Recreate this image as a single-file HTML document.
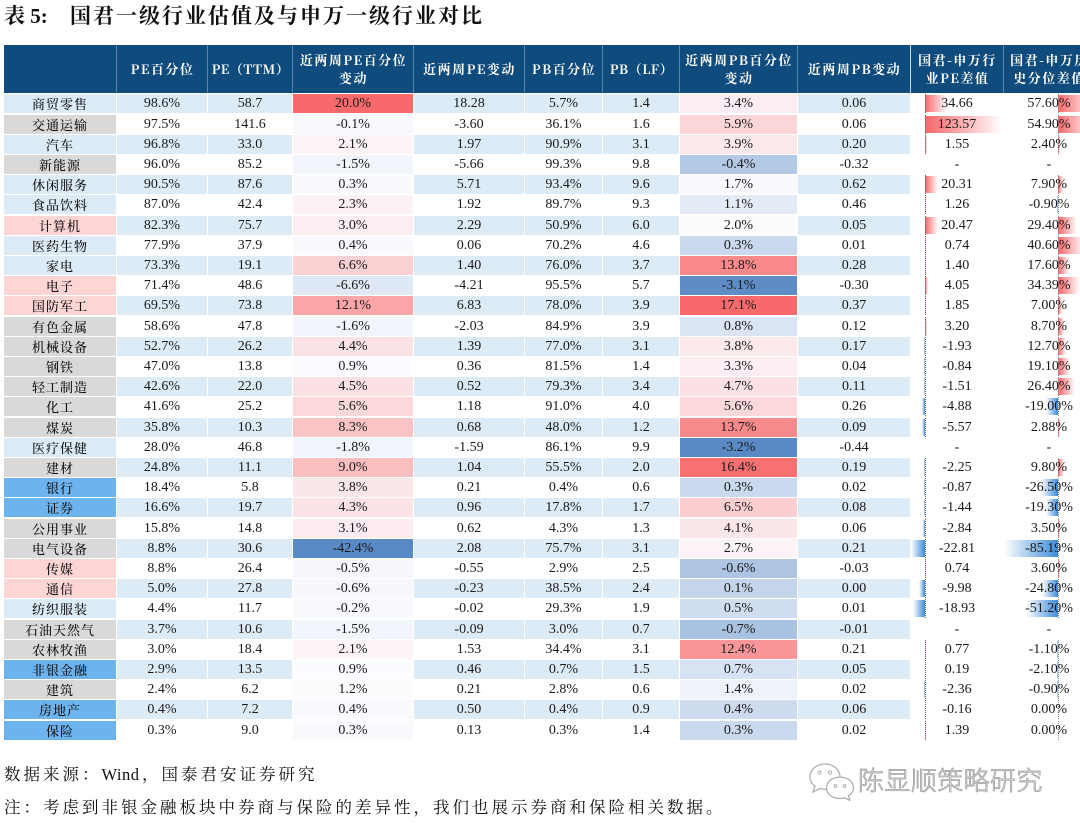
<!DOCTYPE html>
<html><head><meta charset="utf-8"><style>
*{margin:0;padding:0}
body{width:1080px;height:829px;overflow:hidden;background:#fff;position:relative;font-family:"Liberation Serif","Noto Serif CJK SC",serif}
.title{position:absolute;top:1px;font-weight:bold;font-size:21px;line-height:30px;color:#111;font-family:"Liberation Serif","Noto Serif CJK SC",serif;white-space:nowrap}
.hdr{position:absolute;left:4px;top:45px;width:1090px;height:48px;background:#0f4c7d}
.hc{position:absolute;top:45px;height:48px;display:flex;align-items:center;justify-content:center;text-align:center;color:#fff;font-weight:bold;font-size:13px;font-family:"Noto Serif CJK SC",serif;letter-spacing:1.5px;line-height:18.5px;border-left:1px solid #5b84ab;box-sizing:border-box;white-space:nowrap}
.r{position:absolute;left:0;width:1100px;height:19px}
.c{position:absolute;top:0;height:19px;line-height:19px;text-align:center;font-size:14px;color:#1a1a1a;font-family:"Liberation Serif",serif;white-space:nowrap}
.c0{left:4px;width:112px;font-size:13px;font-family:"Noto Serif CJK SC",serif;font-weight:500;letter-spacing:1px;color:#111}
.c1{left:117px;width:90px}
.c2{left:208px;width:84px}
.c3{left:293px;width:120px}
.c4{left:414px;width:110px}
.c5{left:525px;width:77px}
.c6{left:603px;width:76px}
.c7{left:680px;width:117px}
.c8{left:798px;width:112px}
.c9{left:911px;width:92px}
.c10{left:1004px;width:90px}
.e .c1,.e .c2,.e .c4,.e .c5,.e .c6,.e .c8{background:#ddebf7}
.lb{background:#ddebf7!important}
.gy{background:#d9d9d9!important}
.pk{background:#fdd5d5!important}
.bl{background:#6db3ee!important}
.bp{position:absolute;top:1px;height:17px;background:linear-gradient(to right,#f6666a,#fff)}
.bn{position:absolute;top:1px;height:17px;background:linear-gradient(to left,#3f8bd9,#fff)}
.a9,.a10{position:absolute;top:0;height:19px;width:0;border-left:1px dotted #666}
.a9{left:925px}
.a10{left:1058px;border-left-color:#888}
.foot{position:absolute;left:4px;font-size:16.5px;letter-spacing:3px;color:#111;font-family:"Liberation Serif","Noto Serif CJK SC",serif;white-space:nowrap;line-height:22px}
.wm{position:absolute;left:858px;top:763px;font-size:26px;line-height:34px;letter-spacing:0.4px;font-family:"Noto Sans CJK SC",sans-serif;font-weight:300;color:#f6f6f6;-webkit-text-stroke:0.8px #a0a0a0;white-space:nowrap}
</style></head><body>

<div class="title" style="left:4px">表 5:</div>
<div class="title" style="left:70px;letter-spacing:2px">国君一级行业估值及与申万一级行业对比</div>

<div class="hdr"></div>
<div class="hc" style="left:116px;width:92px">PE百分位</div>
<div class="hc" style="left:207px;width:86px;letter-spacing:0.5px">PE（TTM）</div>
<div class="hc" style="left:292px;width:122px">近两周PE百分位<br>变动</div>
<div class="hc" style="left:413px;width:112px">近两周PE变动</div>
<div class="hc" style="left:524px;width:79px">PB百分位</div>
<div class="hc" style="left:602px;width:78px;letter-spacing:0.5px">PB（LF）</div>
<div class="hc" style="left:679px;width:119px">近两周PB百分位<br>变动</div>
<div class="hc" style="left:797px;width:114px">近两周PB变动</div>
<div class="hc" style="left:910px;width:94px;border-left-color:#c9d6e3">国君-申万行<br>业PE差值</div>
<div class="hc" style="left:1003px;width:92px">国君-申万历<br>史分位差值</div>

<div class="r e" style="top:94.3px"><div class="c c0 lb">商贸零售</div><div class="c c1">98.6%</div><div class="c c2">58.7</div><div class="c c3" style="background:#f8696b">20.0%</div><div class="c c4">18.28</div><div class="c c5">5.7%</div><div class="c c6">1.4</div><div class="c c7" style="background:#fcedf0">3.4%</div><div class="c c8">0.06</div><b class="bp" style="left:925px;width:21.5px"></b><i class="a9"></i><div class="c c9">34.66</div><b class="bp" style="left:1058px;width:36.5px"></b><i class="a10"></i><div class="c c10">57.60%</div></div>

<div class="r" style="top:114.5px"><div class="c c0 gy">交通运输</div><div class="c c1">97.5%</div><div class="c c2">141.6</div><div class="c c3" style="background:#f8f9fd">-0.1%</div><div class="c c4">-3.60</div><div class="c c5">36.1%</div><div class="c c6">1.6</div><div class="c c7" style="background:#fbd5d8">5.9%</div><div class="c c8">0.06</div><b class="bp" style="left:925px;width:76.6px"></b><i class="a9"></i><div class="c c9">123.57</div><b class="bp" style="left:1058px;width:34.8px"></b><i class="a10"></i><div class="c c10">54.90%</div></div>

<div class="r e" style="top:134.7px"><div class="c c0 lb">汽车</div><div class="c c1">96.8%</div><div class="c c2">33.0</div><div class="c c3" style="background:#fcf4f7">2.1%</div><div class="c c4">1.97</div><div class="c c5">90.9%</div><div class="c c6">3.1</div><div class="c c7" style="background:#fbe8eb">3.9%</div><div class="c c8">0.20</div><b class="bp" style="left:925px;width:1.5px"></b><i class="a9"></i><div class="c c9">1.55</div><b class="bp" style="left:1058px;width:1.6px"></b><i class="a10"></i><div class="c c10">2.40%</div></div>

<div class="r" style="top:154.9px"><div class="c c0 gy">新能源</div><div class="c c1">96.0%</div><div class="c c2">85.2</div><div class="c c3" style="background:#f2f5fc">-1.5%</div><div class="c c4">-5.66</div><div class="c c5">99.3%</div><div class="c c6">9.8</div><div class="c c7" style="background:#b4c9e6">-0.4%</div><div class="c c8">-0.32</div><div class="c c9">-</div><div class="c c10">-</div></div>

<div class="r e" style="top:175.1px"><div class="c c0 lb">休闲服务</div><div class="c c1">90.5%</div><div class="c c2">87.6</div><div class="c c3" style="background:#f9fafe">0.3%</div><div class="c c4">5.71</div><div class="c c5">93.4%</div><div class="c c6">9.6</div><div class="c c7" style="background:#f7f9fd">1.7%</div><div class="c c8">0.62</div><b class="bp" style="left:925px;width:12.6px"></b><i class="a9"></i><div class="c c9">20.31</div><b class="bp" style="left:1058px;width:5px"></b><i class="a10"></i><div class="c c10">7.90%</div></div>

<div class="r" style="top:195.3px"><div class="c c0 lb">食品饮料</div><div class="c c1">87.0%</div><div class="c c2">42.4</div><div class="c c3" style="background:#fcf2f5">2.3%</div><div class="c c4">1.92</div><div class="c c5">89.7%</div><div class="c c6">9.3</div><div class="c c7" style="background:#e4ebf7">1.1%</div><div class="c c8">0.46</div><b class="bp" style="left:925px;width:1px"></b><i class="a9"></i><div class="c c9">1.26</div><b class="bn" style="left:1057px;width:1px"></b><i class="a10"></i><div class="c c10">-0.90%</div></div>

<div class="r e" style="top:215.5px"><div class="c c0 pk">计算机</div><div class="c c1">82.3%</div><div class="c c2">75.7</div><div class="c c3" style="background:#fcedf0">3.0%</div><div class="c c4">2.29</div><div class="c c5">50.9%</div><div class="c c6">6.0</div><div class="c c7" style="background:#fcfbfe">2.0%</div><div class="c c8">0.05</div><b class="bp" style="left:925px;width:12.7px"></b><i class="a9"></i><div class="c c9">20.47</div><b class="bp" style="left:1058px;width:18.6px"></b><i class="a10"></i><div class="c c10">29.40%</div></div>

<div class="r" style="top:235.7px"><div class="c c0 lb">医药生物</div><div class="c c1">77.9%</div><div class="c c2">37.9</div><div class="c c3" style="background:#fafafe">0.4%</div><div class="c c4">0.06</div><div class="c c5">70.2%</div><div class="c c6">4.6</div><div class="c c7" style="background:#cad9ed">0.3%</div><div class="c c8">0.01</div><b class="bp" style="left:925px;width:1px"></b><i class="a9"></i><div class="c c9">0.74</div><b class="bp" style="left:1058px;width:25.7px"></b><i class="a10"></i><div class="c c10">40.60%</div></div>

<div class="r e" style="top:255.9px"><div class="c c0 lb">家电</div><div class="c c1">73.3%</div><div class="c c2">19.1</div><div class="c c3" style="background:#fbd1d4">6.6%</div><div class="c c4">1.40</div><div class="c c5">76.0%</div><div class="c c6">3.7</div><div class="c c7" style="background:#f9898b">13.8%</div><div class="c c8">0.28</div><b class="bp" style="left:925px;width:1px"></b><i class="a9"></i><div class="c c9">1.40</div><b class="bp" style="left:1058px;width:11.2px"></b><i class="a10"></i><div class="c c10">17.60%</div></div>

<div class="r" style="top:276.1px"><div class="c c0 pk">电子</div><div class="c c1">71.4%</div><div class="c c2">48.6</div><div class="c c3" style="background:#dfe8f5">-6.6%</div><div class="c c4">-4.21</div><div class="c c5">95.5%</div><div class="c c6">5.7</div><div class="c c7" style="background:#5d8cc7">-3.1%</div><div class="c c8">-0.30</div><b class="bp" style="left:925px;width:2.5px"></b><i class="a9"></i><div class="c c9">4.05</div><b class="bp" style="left:1058px;width:21.8px"></b><i class="a10"></i><div class="c c10">34.39%</div></div>

<div class="r e" style="top:296.3px"><div class="c c0 pk">国防军工</div><div class="c c1">69.5%</div><div class="c c2">73.8</div><div class="c c3" style="background:#faa6a9">12.1%</div><div class="c c4">6.83</div><div class="c c5">78.0%</div><div class="c c6">3.9</div><div class="c c7" style="background:#f8696b">17.1%</div><div class="c c8">0.37</div><b class="bp" style="left:925px;width:1.2px"></b><i class="a9"></i><div class="c c9">1.85</div><b class="bp" style="left:1058px;width:4.4px"></b><i class="a10"></i><div class="c c10">7.00%</div></div>

<div class="r" style="top:316.5px"><div class="c c0 gy">有色金属</div><div class="c c1">58.6%</div><div class="c c2">47.8</div><div class="c c3" style="background:#f2f5fc">-1.6%</div><div class="c c4">-2.03</div><div class="c c5">84.9%</div><div class="c c6">3.9</div><div class="c c7" style="background:#dae4f3">0.8%</div><div class="c c8">0.12</div><b class="bp" style="left:925px;width:2px"></b><i class="a9"></i><div class="c c9">3.20</div><b class="bp" style="left:1058px;width:5.5px"></b><i class="a10"></i><div class="c c10">8.70%</div></div>

<div class="r e" style="top:336.7px"><div class="c c0 gy">机械设备</div><div class="c c1">52.7%</div><div class="c c2">26.2</div><div class="c c3" style="background:#fbe2e5">4.4%</div><div class="c c4">1.39</div><div class="c c5">77.0%</div><div class="c c6">3.1</div><div class="c c7" style="background:#fbe9ec">3.8%</div><div class="c c8">0.17</div><b class="bn" style="left:923.8px;width:1.2px"></b><i class="a9"></i><div class="c c9">-1.93</div><b class="bp" style="left:1058px;width:8.1px"></b><i class="a10"></i><div class="c c10">12.70%</div></div>

<div class="r" style="top:356.9px"><div class="c c0 gy">钢铁</div><div class="c c1">47.0%</div><div class="c c2">13.8</div><div class="c c3" style="background:#fbfcff">0.9%</div><div class="c c4">0.36</div><div class="c c5">81.5%</div><div class="c c6">1.4</div><div class="c c7" style="background:#fceef1">3.3%</div><div class="c c8">0.04</div><b class="bn" style="left:924px;width:1px"></b><i class="a9"></i><div class="c c9">-0.84</div><b class="bp" style="left:1058px;width:12.1px"></b><i class="a10"></i><div class="c c10">19.10%</div></div>

<div class="r e" style="top:377.1px"><div class="c c0 gy">轻工制造</div><div class="c c1">42.6%</div><div class="c c2">22.0</div><div class="c c3" style="background:#fbe1e4">4.5%</div><div class="c c4">0.52</div><div class="c c5">79.3%</div><div class="c c6">3.4</div><div class="c c7" style="background:#fbe1e3">4.7%</div><div class="c c8">0.11</div><b class="bn" style="left:924px;width:1px"></b><i class="a9"></i><div class="c c9">-1.51</div><b class="bp" style="left:1058px;width:16.7px"></b><i class="a10"></i><div class="c c10">26.40%</div></div>

<div class="r" style="top:397.3px"><div class="c c0 gy">化工</div><div class="c c1">41.6%</div><div class="c c2">25.2</div><div class="c c3" style="background:#fbd9db">5.6%</div><div class="c c4">1.18</div><div class="c c5">91.0%</div><div class="c c6">4.0</div><div class="c c7" style="background:#fbd8db">5.6%</div><div class="c c8">0.26</div><b class="bn" style="left:922px;width:3px"></b><i class="a9"></i><div class="c c9">-4.88</div><b class="bn" style="left:1046px;width:12px"></b><i class="a10"></i><div class="c c10">-19.00%</div></div>

<div class="r e" style="top:417.5px"><div class="c c0 gy">煤炭</div><div class="c c1">35.8%</div><div class="c c2">10.3</div><div class="c c3" style="background:#fac4c6">8.3%</div><div class="c c4">0.68</div><div class="c c5">48.0%</div><div class="c c6">1.2</div><div class="c c7" style="background:#f98a8c">13.7%</div><div class="c c8">0.09</div><b class="bn" style="left:921.5px;width:3.5px"></b><i class="a9"></i><div class="c c9">-5.57</div><b class="bp" style="left:1058px;width:1.8px"></b><i class="a10"></i><div class="c c10">2.88%</div></div>

<div class="r" style="top:437.7px"><div class="c c0 lb">医疗保健</div><div class="c c1">28.0%</div><div class="c c2">46.8</div><div class="c c3" style="background:#f1f4fb">-1.8%</div><div class="c c4">-1.59</div><div class="c c5">86.1%</div><div class="c c6">9.9</div><div class="c c7" style="background:#5a8ac6">-3.2%</div><div class="c c8">-0.44</div><div class="c c9">-</div><div class="c c10">-</div></div>

<div class="r e" style="top:457.9px"><div class="c c0 gy">建材</div><div class="c c1">24.8%</div><div class="c c2">11.1</div><div class="c c3" style="background:#fabec1">9.0%</div><div class="c c4">1.04</div><div class="c c5">55.5%</div><div class="c c6">2.0</div><div class="c c7" style="background:#f87072">16.4%</div><div class="c c8">0.19</div><b class="bn" style="left:923.6px;width:1.4px"></b><i class="a9"></i><div class="c c9">-2.25</div><b class="bp" style="left:1058px;width:6.2px"></b><i class="a10"></i><div class="c c10">9.80%</div></div>

<div class="r" style="top:478.1px"><div class="c c0 bl">银行</div><div class="c c1">18.4%</div><div class="c c2">5.8</div><div class="c c3" style="background:#fbe7ea">3.8%</div><div class="c c4">0.21</div><div class="c c5">0.4%</div><div class="c c6">0.6</div><div class="c c7" style="background:#cad9ed">0.3%</div><div class="c c8">0.02</div><b class="bn" style="left:924px;width:1px"></b><i class="a9"></i><div class="c c9">-0.87</div><b class="bn" style="left:1041.2px;width:16.8px"></b><i class="a10"></i><div class="c c10">-26.50%</div></div>

<div class="r e" style="top:498.3px"><div class="c c0 bl">证券</div><div class="c c1">16.6%</div><div class="c c2">19.7</div><div class="c c3" style="background:#fbe3e6">4.3%</div><div class="c c4">0.96</div><div class="c c5">17.8%</div><div class="c c6">1.7</div><div class="c c7" style="background:#fbcfd2">6.5%</div><div class="c c8">0.08</div><b class="bn" style="left:924px;width:1px"></b><i class="a9"></i><div class="c c9">-1.44</div><b class="bn" style="left:1045.8px;width:12.2px"></b><i class="a10"></i><div class="c c10">-19.30%</div></div>

<div class="r" style="top:518.5px"><div class="c c0 gy">公用事业</div><div class="c c1">15.8%</div><div class="c c2">14.8</div><div class="c c3" style="background:#fcecef">3.1%</div><div class="c c4">0.62</div><div class="c c5">4.3%</div><div class="c c6">1.3</div><div class="c c7" style="background:#fbe6e9">4.1%</div><div class="c c8">0.06</div><b class="bn" style="left:923.2px;width:1.8px"></b><i class="a9"></i><div class="c c9">-2.84</div><b class="bp" style="left:1058px;width:2.2px"></b><i class="a10"></i><div class="c c10">3.50%</div></div>

<div class="r e" style="top:538.7px"><div class="c c0 gy">电气设备</div><div class="c c1">8.8%</div><div class="c c2">30.6</div><div class="c c3" style="background:#5a8ac6">-42.4%</div><div class="c c4">2.08</div><div class="c c5">75.7%</div><div class="c c6">3.1</div><div class="c c7" style="background:#fcf4f7">2.7%</div><div class="c c8">0.21</div><b class="bn" style="left:910.9px;width:14.1px"></b><i class="a9"></i><div class="c c9">-22.81</div><b class="bn" style="left:1004px;width:54px"></b><i class="a10"></i><div class="c c10">-85.19%</div></div>

<div class="r" style="top:558.9px"><div class="c c0 pk">传媒</div><div class="c c1">8.8%</div><div class="c c2">26.4</div><div class="c c3" style="background:#f6f8fd">-0.5%</div><div class="c c4">-0.55</div><div class="c c5">2.9%</div><div class="c c6">2.5</div><div class="c c7" style="background:#adc5e3">-0.6%</div><div class="c c8">-0.03</div><b class="bp" style="left:925px;width:1px"></b><i class="a9"></i><div class="c c9">0.74</div><b class="bp" style="left:1058px;width:2.3px"></b><i class="a10"></i><div class="c c10">3.60%</div></div>

<div class="r e" style="top:579.1px"><div class="c c0 pk">通信</div><div class="c c1">5.0%</div><div class="c c2">27.8</div><div class="c c3" style="background:#f6f8fd">-0.6%</div><div class="c c4">-0.23</div><div class="c c5">38.5%</div><div class="c c6">2.4</div><div class="c c7" style="background:#c4d4eb">0.1%</div><div class="c c8">0.00</div><b class="bn" style="left:918.8px;width:6.2px"></b><i class="a9"></i><div class="c c9">-9.98</div><b class="bn" style="left:1042.3px;width:15.7px"></b><i class="a10"></i><div class="c c10">-24.80%</div></div>

<div class="r" style="top:599.3px"><div class="c c0 lb">纺织服装</div><div class="c c1">4.4%</div><div class="c c2">11.7</div><div class="c c3" style="background:#f7f9fd">-0.2%</div><div class="c c4">-0.02</div><div class="c c5">29.3%</div><div class="c c6">1.9</div><div class="c c7" style="background:#d1def0">0.5%</div><div class="c c8">0.01</div><b class="bn" style="left:913.3px;width:11.7px"></b><i class="a9"></i><div class="c c9">-18.93</div><b class="bn" style="left:1025.5px;width:32.5px"></b><i class="a10"></i><div class="c c10">-51.20%</div></div>

<div class="r e" style="top:619.5px"><div class="c c0 gy">石油天然气</div><div class="c c1">3.7%</div><div class="c c2">10.6</div><div class="c c3" style="background:#f2f5fc">-1.5%</div><div class="c c4">-0.09</div><div class="c c5">3.0%</div><div class="c c6">0.7</div><div class="c c7" style="background:#aac2e2">-0.7%</div><div class="c c8">-0.01</div><div class="c c9">-</div><div class="c c10">-</div></div>

<div class="r" style="top:639.7px"><div class="c c0 gy">农林牧渔</div><div class="c c1">3.0%</div><div class="c c2">18.4</div><div class="c c3" style="background:#fcf4f7">2.1%</div><div class="c c4">1.53</div><div class="c c5">34.4%</div><div class="c c6">3.1</div><div class="c c7" style="background:#f99699">12.4%</div><div class="c c8">0.21</div><b class="bp" style="left:925px;width:1px"></b><i class="a9"></i><div class="c c9">0.77</div><b class="bn" style="left:1057px;width:1px"></b><i class="a10"></i><div class="c c10">-1.10%</div></div>

<div class="r e" style="top:659.9px"><div class="c c0 bl">非银金融</div><div class="c c1">2.9%</div><div class="c c2">13.5</div><div class="c c3" style="background:#fbfcff">0.9%</div><div class="c c4">0.46</div><div class="c c5">0.7%</div><div class="c c6">1.5</div><div class="c c7" style="background:#d7e2f2">0.7%</div><div class="c c8">0.05</div><i class="a9"></i><div class="c c9">0.19</div><b class="bn" style="left:1056.7px;width:1.3px"></b><i class="a10"></i><div class="c c10">-2.10%</div></div>

<div class="r" style="top:680.1px"><div class="c c0 gy">建筑</div><div class="c c1">2.4%</div><div class="c c2">6.2</div><div class="c c3" style="background:#fcfbfe">1.2%</div><div class="c c4">0.21</div><div class="c c5">2.8%</div><div class="c c6">0.6</div><div class="c c7" style="background:#eef2fa">1.4%</div><div class="c c8">0.02</div><b class="bn" style="left:923.5px;width:1.5px"></b><i class="a9"></i><div class="c c9">-2.36</div><b class="bn" style="left:1057px;width:1px"></b><i class="a10"></i><div class="c c10">-0.90%</div></div>

<div class="r e" style="top:700.3px"><div class="c c0 bl">房地产</div><div class="c c1">0.4%</div><div class="c c2">7.2</div><div class="c c3" style="background:#fafafe">0.4%</div><div class="c c4">0.50</div><div class="c c5">0.4%</div><div class="c c6">0.9</div><div class="c c7" style="background:#cedbef">0.4%</div><div class="c c8">0.06</div><i class="a9"></i><div class="c c9">-0.16</div><i class="a10"></i><div class="c c10">0.00%</div></div>

<div class="r" style="top:720.5px"><div class="c c0 bl">保险</div><div class="c c1">0.3%</div><div class="c c2">9.0</div><div class="c c3" style="background:#f9fafe">0.3%</div><div class="c c4">0.13</div><div class="c c5">0.3%</div><div class="c c6">1.4</div><div class="c c7" style="background:#cad9ed">0.3%</div><div class="c c8">0.02</div><b class="bp" style="left:925px;width:1px"></b><i class="a9"></i><div class="c c9">1.39</div><i class="a10"></i><div class="c c10">0.00%</div></div>

<div class="foot" style="top:764px">数据来源：<span style="letter-spacing:0.5px;margin-right:2.5px">Wind</span>，国泰君安证券研究</div>
<div class="foot" style="top:797px">注：考虑到非银金融板块中券商与保险的差异性，我们也展示券商和保险相关数据。</div>

<svg style="position:absolute;left:808px;top:761px" width="48" height="40" viewBox="0 0 48 40">
<path d="M17 3 C8 3 2 9 2 16 C2 20 4 23 7 25 L5 31 L12 27.5 C14 28 15.5 28.3 17 28.3 C26 28.3 32 22.5 32 16 C32 9 26 3 17 3 Z" fill="#fff" stroke="#b0b0b0" stroke-width="1.3"/>
<circle cx="11.5" cy="11.5" r="1.6" fill="none" stroke="#b0b0b0" stroke-width="1"/>
<circle cx="22" cy="11.5" r="1.6" fill="none" stroke="#b0b0b0" stroke-width="1"/>
<path d="M32 16 C24 16 18.5 21 18.5 27 C18.5 33 24 37.5 32 37.5 C33.5 37.5 35 37.3 36.5 36.8 L42 39.5 L40.5 34.8 C43.5 32.8 45.5 30 45.5 27 C45.5 21 40 16 32 16 Z" fill="#fff" stroke="#b0b0b0" stroke-width="1.3"/>
<circle cx="27.5" cy="25" r="1.4" fill="none" stroke="#b0b0b0" stroke-width="1"/>
<circle cx="36.5" cy="25" r="1.4" fill="none" stroke="#b0b0b0" stroke-width="1"/>
</svg>
<div class="wm">陈显顺策略研究</div>

</body></html>
